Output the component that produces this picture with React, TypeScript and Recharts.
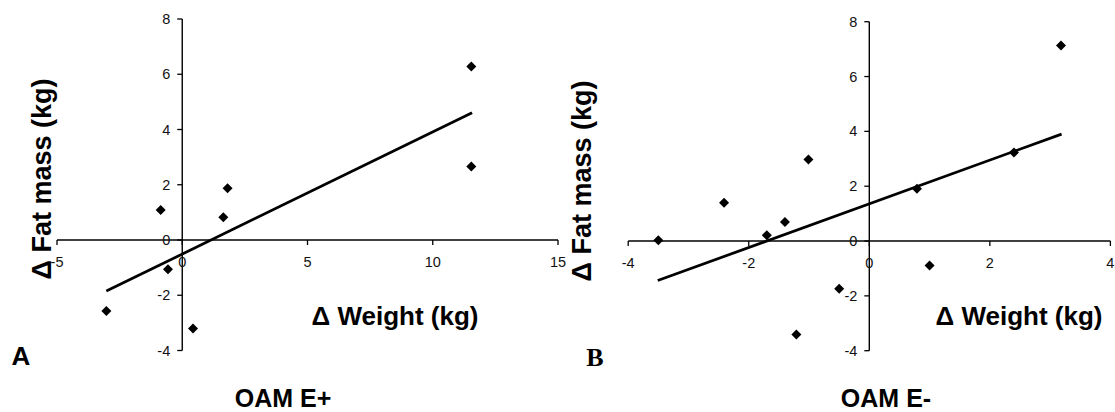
import React from 'react';
import { ScatterChart, Scatter, XAxis, YAxis, ReferenceLine } from 'recharts';

// panel A: OAM E+
const weightA = [11.54, 11.54, 1.81, 1.64, -0.86, -0.57, -3.03, 0.43];
const fatA = [6.28, 2.66, 1.87, 0.82, 1.09, -1.06, -2.57, -3.2];
const trendWeightA = [-3.03, 11.57];
const trendFatA = [-1.85, 4.61];
const xTicksA = [-5, 0, 5, 10, 15];

// panel B: OAM E-
const weightB = [-3.5, -2.41, -1.7, -1.4, -1.01, -1.21, -0.5, 0.79, 1.0, 2.4, 3.18];
const fatB = [0.03, 1.4, 0.21, 0.69, 2.97, -3.41, -1.74, 1.91, -0.89, 3.23, 7.13];
const trendWeightB = [-3.51, 3.19];
const trendFatB = [-1.44, 3.9];
const xTicksB = [-4, -2, 0, 2, 4];

const yTicks = [-4, -2, 0, 2, 4, 6, 8];

const SANS = '"Liberation Sans", Arial, sans-serif';
const TICK_FONT = { fontFamily: SANS, fontSize: 14.5, fill: '#111' };

const pts = (xs: number[], ys: number[]) => xs.map((x, i) => ({ x, y: ys[i] }));

const Diamond = (p: any) => {
  const { cx, cy } = p;
  const r = 5;
  return <polygon points={`${cx},${cy - r} ${cx + r},${cy} ${cx},${cy + r} ${cx - r},${cy}`} fill="#000" />;
};

interface PanelProps {
  left: number; width: number;
  plot: { top: number; right: number; bottom: number; left: number }; // plot edges, in panel pixels
  xDomain: [number, number]; xTicks: number[];
  data: { x: number; y: number }[]; trend: { x: number; y: number }[];
}

const H = 412;
const yDomain: [number, number] = [-4, 8];

const Panel: React.FC<PanelProps> = ({ left, width, plot, xDomain, xTicks, data, trend }) => {
  const plotW = plot.right - plot.left;
  const plotH = plot.bottom - plot.top;
  // axes need 1px of room or recharts skips drawing them
  const margin = { top: plot.top, right: width - plot.right, bottom: H - plot.bottom - 1, left: plot.left - 1 };
  const zeroUp = plotH * (0 - yDomain[0]) / (yDomain[1] - yDomain[0]);
  const zeroRight = plotW * (0 - xDomain[0]) / (xDomain[1] - xDomain[0]);

  const XTick = (p: any) => {
    const y0 = p.y - zeroUp;
    return (
      <g>
        <line x1={p.x} x2={p.x} y1={y0} y2={y0 + 5} stroke="#000" strokeWidth={1.3} />
        <text x={p.x} y={y0 + 22} textAnchor="middle" dominantBaseline="central" {...TICK_FONT}>{p.payload.value}</text>
      </g>
    );
  };
  const YTick = (p: any) => {
    const x0 = p.x + zeroRight;
    return (
      <g>
        <line x1={x0 - 5} x2={x0} y1={p.y} y2={p.y} stroke="#000" strokeWidth={1.3} />
        <text x={x0 - 12} y={p.y} textAnchor="end" dominantBaseline="central" {...TICK_FONT}>{p.payload.value}</text>
      </g>
    );
  };

  return (
    <div style={{ position: 'absolute', left, top: 0 }}>
      <ScatterChart width={width} height={H} margin={margin}>
        <XAxis type="number" dataKey="x" domain={xDomain} ticks={xTicks} interval={0} height={1}
          axisLine={false} tickLine={false} tickSize={0} tickMargin={0} tick={XTick} allowDataOverflow />
        <YAxis type="number" dataKey="y" domain={yDomain} ticks={yTicks} interval={0} width={1}
          axisLine={false} tickLine={false} tickSize={0} tickMargin={0} tick={YTick} allowDataOverflow />
        <ReferenceLine y={0} stroke="#000" strokeWidth={1.4} />
        <ReferenceLine x={0} stroke="#000" strokeWidth={1.4} />
        <Scatter data={trend} line={{ stroke: '#000', strokeWidth: 2.75 }} shape={() => <g />} isAnimationActive={false} />
        <Scatter data={data} shape={Diamond} isAnimationActive={false} />
      </ScatterChart>
    </div>
  );
};

const bold = { fontFamily: SANS, fontWeight: 700, fill: '#000' };

export default function App() {
  return (
    <div style={{ position: 'absolute', left: 0, top: 0, width: 1115, height: 412, background: '#fff', overflow: 'hidden' }}>
      <Panel left={0} width={570} plot={{ top: 19, right: 558, bottom: 350.5, left: 57 }}
        xDomain={[-5, 15]} xTicks={xTicksA} data={pts(weightA, fatA)} trend={pts(trendWeightA, trendFatA)} />
      <Panel left={550} width={565} plot={{ top: 21.7, right: 560.4, bottom: 350.7, left: 78.2 }}
        xDomain={[-4, 4]} xTicks={xTicksB} data={pts(weightB, fatB)} trend={pts(trendWeightB, trendFatB)} />
      <svg width={1115} height={412} style={{ position: 'absolute', left: 0, top: 0, pointerEvents: 'none' }}>
        <text transform="translate(42,179) rotate(-90)" textAnchor="middle" dominantBaseline="central" fontSize={27} {...bold}>Δ Fat mass (kg)</text>
        <text transform="translate(582,181) rotate(-90)" textAnchor="middle" dominantBaseline="central" fontSize={27} {...bold}>Δ Fat mass (kg)</text>
        <text x={395} y={316} textAnchor="middle" dominantBaseline="central" fontSize={26} {...bold}>Δ Weight (kg)</text>
        <text x={1019} y={316} textAnchor="middle" dominantBaseline="central" fontSize={26} {...bold}>Δ Weight (kg)</text>
        <text x={21} y={356} textAnchor="middle" dominantBaseline="central" fontSize={26} {...bold}>A</text>
        <text x={595} y={357} textAnchor="middle" dominantBaseline="central" fontSize={26} fontFamily='"Liberation Serif", "Times New Roman", serif' fontWeight={700}>B</text>
        <text x={283} y={407} textAnchor="middle" fontSize={25} {...bold}>OAM E+</text>
        <text x={886} y={407} textAnchor="middle" fontSize={25} {...bold}>OAM E-</text>
      </svg>
    </div>
  );
}
